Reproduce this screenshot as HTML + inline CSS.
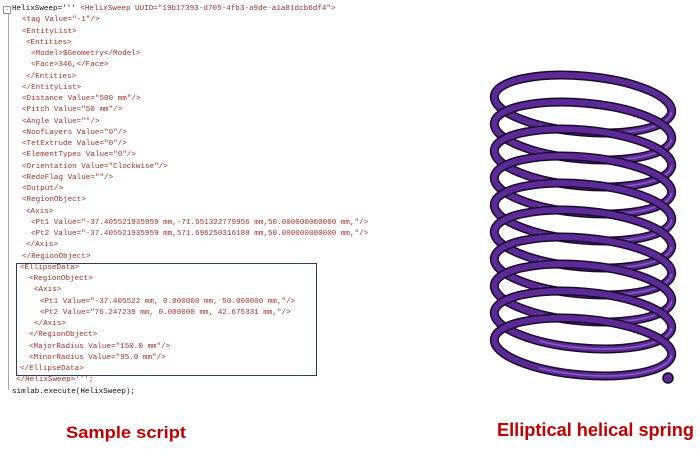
<!DOCTYPE html>
<html><head><meta charset="utf-8"><style>
body{margin:0;width:700px;height:456px;background:#fff;position:relative;overflow:hidden;font-family:"Liberation Mono",monospace}
.l{position:absolute;font-size:7.6px;line-height:11px;white-space:pre;color:#a3322a}
.k{color:#111}
</style></head><body>
<div style="position:absolute;left:8px;top:12px;width:1px;height:378px;background:#aaa"></div>
<div style="position:absolute;left:3px;top:6px;width:6px;height:6px;border:1px solid #999;font-size:6px;line-height:6px;text-align:center;color:#666;background:#fff">-</div>
<div style="position:absolute;left:16px;top:263px;width:299px;height:111px;border:1px solid #2b3a6b"></div>
<div id="c"></div>
<script>
var L=[
[12,'<span class="k">HelixSweep=\'\'\'</span> <HelixSweep UUID="19b17393-d705-4fb3-a9de-a1a81dcb6df4">'],
[22,'<tag Value="-1"/>'],[22,'<EntityList>'],[26,'<Entities>'],[31,'<Model>$Geometry</Model>'],[31,'<Face>346,</Face>'],[26,'</Entities>'],[22,'</EntityList>'],
[22,'<Distance Value="500 mm"/>'],[22,'<Pitch Value="50 mm"/>'],[22,'<Angle Value=""/>'],[22,'<NoofLayers Value="0"/>'],[22,'<TetExtrude Value="0"/>'],[22,'<ElementTypes Value="0"/>'],[22,'<Orientation Value="Clockwise"/>'],[22,'<RedoFlag Value=""/>'],[22,'<Output/>'],
[22,'<RegionObject>'],[26,'<Axis>'],[31,'<Pt1 Value="-37.405521935959 mm,-71.551322779956 mm,50.000000000000 mm,"/>'],[31,'<Pt2 Value="-37.405521935959 mm,571.696250316188 mm,50.000000000000 mm,"/>'],[26,'</Axis>'],[22,'</RegionObject>'],
[20,'<EllipseData>'],[29,'<RegionObject>'],[34,'<Axis>'],[40,'<Pt1 Value="-37.405522 mm, 0.000000 mm, 50.000000 mm,"/>'],[40,'<Pt2 Value="76.247239 mm, 0.000000 mm, 42.675331 mm,"/>'],[34,'</Axis>'],[29,'</RegionObject>'],[29,'<MajorRadius Value="150.0 mm"/>'],[29,'<MinorRadius Value="95.0 mm"/>'],[20,'</EllipseData>'],
[16,'</HelixSweep>\'\'\';'],[12,'<span class="k">simlab.execute(HelixSweep);</span>']];
var h='';
function esc(s){return s.replace(/&/g,'&amp;').replace(/</g,'&lt;').replace(/>/g,'&gt;');}
L.forEach(function(a,i){var t=a[1];var m=t.match(/^(<span class="k">[^<]*<\/span>)(.*)$/);var s=m?m[1]+esc(m[2]):esc(t);h+='<div class="l" style="left:'+a[0]+'px;top:'+(4+i*11.25)+'px">'+s+'</div>';});
document.getElementById('c').innerHTML=h;
</script>
<svg width="700" height="456" style="position:absolute;left:0;top:0">
<g id="sp"></g>
<text x="66" y="438" fill="#c00000" font-family="Liberation Sans" font-weight="bold" font-size="17" textLength="120" lengthAdjust="spacingAndGlyphs">Sample script</text>
<text x="497" y="436" fill="#c00000" font-family="Liberation Sans" font-weight="bold" font-size="18" textLength="197" lengthAdjust="spacingAndGlyphs">Elliptical helical spring</text>
</svg>
<script>
var g='',n=10;
for(var i=0;i<n;i++){var cy=104+i*27;
var e='<ellipse cx="583" cy="'+cy+'" rx="89" ry="28" transform="rotate(5 583 '+cy+')"';
g+=e+' fill="none" stroke="#1a0a2a" stroke-width="9"/>';
g+=e+' fill="none" stroke="#5b2a96" stroke-width="6"/>';
g+=e+' fill="none" stroke="#8a5cc4" stroke-width="1.5" stroke-dasharray="140 420"/>';}
g+='<circle cx="668" cy="378" r="5" fill="#5b2a96" stroke="#1a0a2a" stroke-width="1.5"/>';
document.getElementById('sp').innerHTML=g;
</script>
</body></html>
